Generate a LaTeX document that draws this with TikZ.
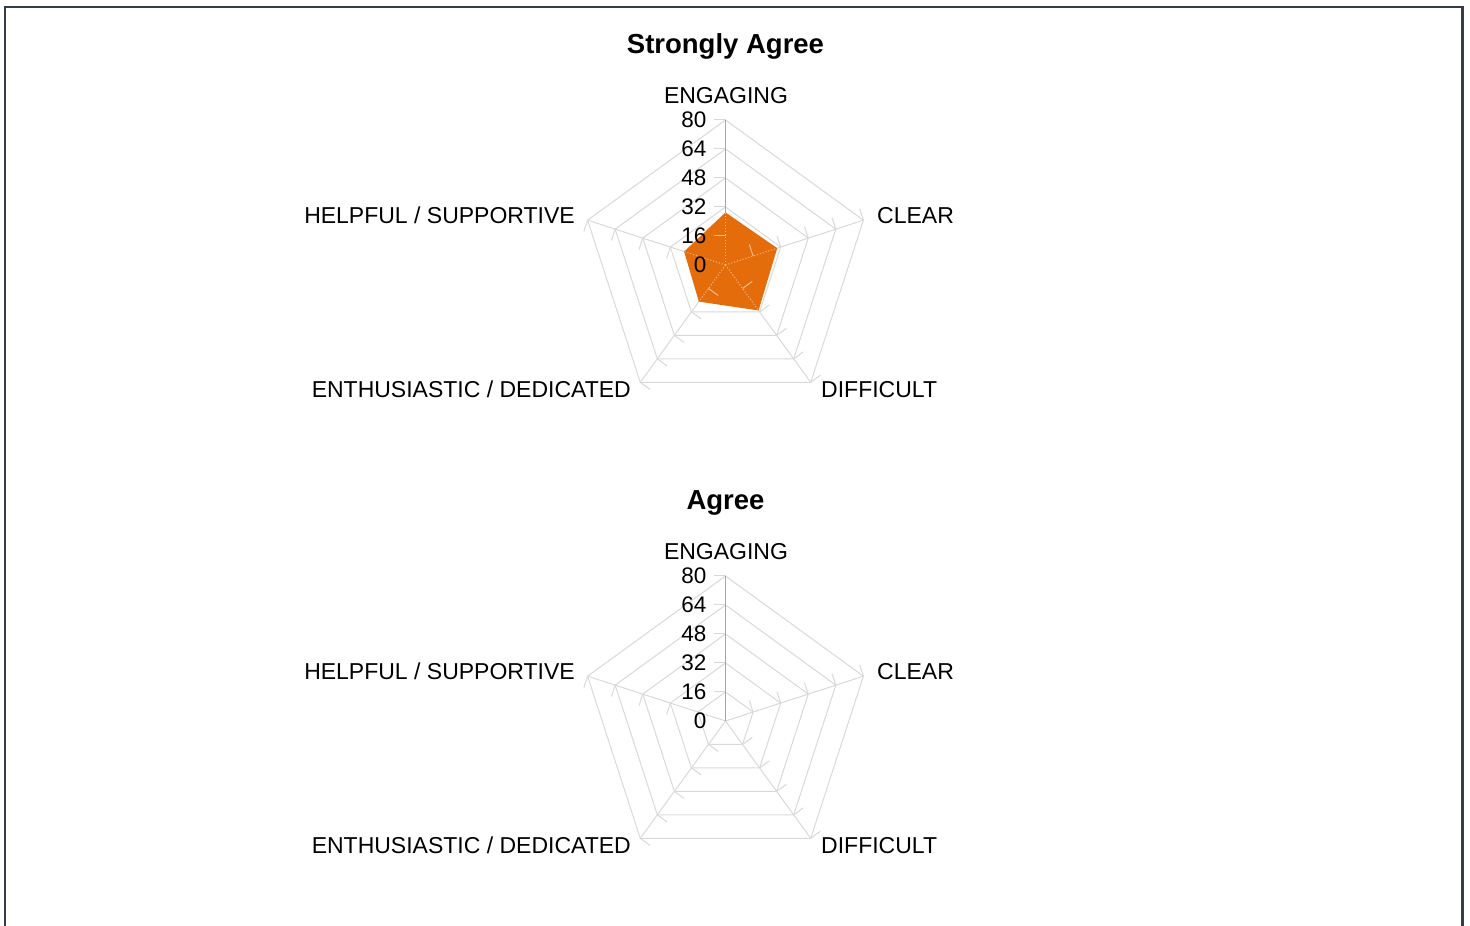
\documentclass[tikz,border=0pt]{standalone}
\usepackage{fontspec}
\setmainfont{Liberation Sans}
\definecolor{framecol}{HTML}{333D4C}
\definecolor{gridcol}{HTML}{D9D9D9}
\definecolor{axiscol}{HTML}{A6A6A6}
\definecolor{fillcol}{HTML}{E46C0A}
\tikzset{
  frame/.style={draw=framecol, line width=2.2pt},
  grid/.style={draw=gridcol, line width=1pt},
  axis/.style={draw=axiscol, line width=1pt},
  inner/.style={draw=white!55!fillcol, line width=1pt},
  lbl/.style={font=\fontsize{23}{27}\selectfont, inner sep=0pt},
  num/.style={font=\fontsize{22.5}{26}\selectfont, inner sep=0pt, anchor=base east},
  ttl/.style={font=\fontsize{27.5}{32}\selectfont\bfseries, inner sep=0pt, anchor=base}
}
\begin{document}
\begin{tikzpicture}[x=1pt,y=1pt]
   \useasboundingbox (0,0) rectangle (1470,926);
   \draw[frame] (5,0) -- (5,919) -- (1462.5,919) -- (1462.5,0);

   \foreach \c/\y in {s/661,a/205}{
     \begin{scope}[shift={(725.5,\y)}]
       \coordinate (\c-o) at (0,0);
       \foreach \r in {29,58,87,116,145}
         \draw[grid] (90:\r) -- (18:\r) -- (-54:\r) -- (-126:\r) -- (162:\r) -- cycle;
       \foreach \a in {18,-54,-126,162}
         \draw[grid] (\c-o) -- (\a:145);
       \foreach \a in {90,18,-54,-126,162}
         \foreach \r in {29,58,87,116,145}
           \draw[grid] (\a:\r) -- ++(\a+90:12);
       \draw[axis] (\c-o) -- (90:145);
     \end{scope}
   }

   \begin{scope}[shift={(725.5,661)}]
     \fill[fillcol] (90:52.6) -- (18:54.4) -- (-54:56.2) -- (-126:45.3) -- (162:43.5) -- cycle;
     \draw[inner, dotted] (s-o) -- (18:54.4);
     \draw[inner, dotted] (s-o) -- (-54:56.2);
     \draw[inner, dotted] (s-o) -- (-126:45.3);
     \draw[inner, dotted] (s-o) -- (162:43.5);
     \draw[inner, dotted] (s-o) -- (90:52.6);
     \foreach \a in {90,18,-54,-126}
       \draw[inner] (\a:29) -- ++(\a+90:12);
   \end{scope}

   \foreach \c/\t/\y in {s/Strongly Agree/661,a/Agree/205}{
     \begin{scope}[shift={(725.5,\y)}]
       \node[ttl] (\c-title) at (0,211.5) {\t};
       \foreach \v in {0,16,32,48,64,80}
         \node[num] (\c-n\v) at (-19,{\v*1.8125-7.5}) {\v};
       \node[lbl, anchor=base] (\c-eng) at (0.5,161.7) {ENGAGING};
       \node[lbl, anchor=base west] (\c-clr) at (151.5,41) {CLEAR};
       \node[lbl, anchor=base west] (\c-dif) at (95.5,-132.8) {DIFFICULT};
       \node[lbl, anchor=base east] (\c-ent) at (-94.5,-132.8) {ENTHUSIASTIC / DEDICATED};
       \node[lbl, anchor=base east] (\c-hlp) at (-150.5,41) {HELPFUL / SUPPORTIVE};
     \end{scope}
   }
\end{tikzpicture}
\end{document}
